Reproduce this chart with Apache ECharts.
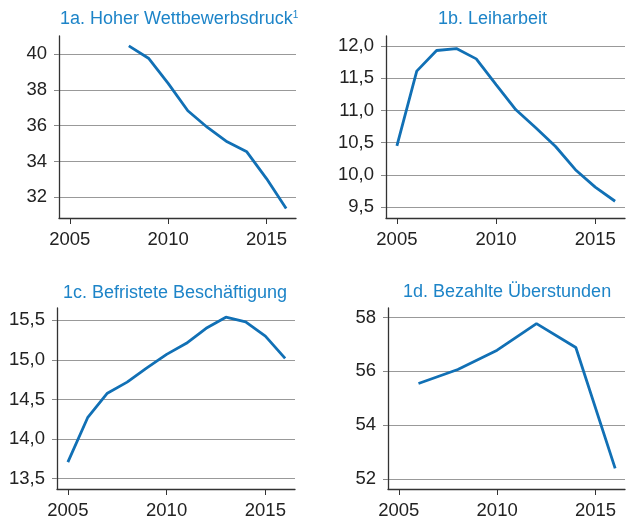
<!DOCTYPE html>
<html><head><meta charset="utf-8">
<script src="https://cdn.jsdelivr.net/npm/echarts@6/dist/echarts.min.js"></script>
<style>html,body{margin:0;padding:0;background:#fff}#c{width:626px;height:520px}</style>
</head><body><div id="c"></div>
<script>
const yearTicks = [2005, 2010, 2015];

const yearsA = [2008, 2009, 2010, 2011, 2012, 2013, 2014, 2015, 2016];
const valuesA = [40.45, 39.76, 38.36, 36.83, 35.9, 35.1, 34.54, 33.05, 31.38];
const ticksA = [32, 34, 36, 38, 40];

const yearsB = [2005, 2006, 2007, 2008, 2009, 2010, 2011, 2012, 2013, 2014, 2015, 2016];
const valuesB = [10.45, 11.61, 11.93, 11.96, 11.80, 11.40, 11.01, 10.73, 10.44, 10.08, 9.81, 9.59];
const ticksB = [9.5, 10.0, 10.5, 11.0, 11.5, 12.0];

const yearsC = [2005, 2006, 2007, 2008, 2009, 2010, 2011, 2012, 2013, 2014, 2015, 2016];
const valuesC = [13.71, 14.27, 14.58, 14.72, 14.90, 15.07, 15.21, 15.40, 15.54, 15.48, 15.30, 15.02];
const ticksC = [13.5, 14.0, 14.5, 15.0, 15.5];

const yearsD = [2006, 2008, 2010, 2012, 2014, 2016];
const valuesD = [55.55, 56.07, 56.79, 57.78, 56.89, 52.39];
const ticksD = [52, 54, 56, 58];

const titleColor = '#1d84c8';
const lineColor = '#1170b5';
const font = 'Liberation Sans, Arial, sans-serif';

const grids = [
  {left: 59, right: 330, top: 36, bottom: 302},
  {left: 386, right: 1, top: 36, bottom: 302},
  {left: 57, right: 331, top: 308, bottom: 31},
  {left: 388, right: 1, top: 308, bottom: 31}
];
const yRanges = [[30.85, 41.0], [9.33, 12.155], [13.37, 15.656], [51.62, 58.36]];
const yTicks = [ticksA, ticksB, ticksC, ticksD];
const decimals = [0, 1, 1, 0];
const series = [[yearsA, valuesA], [yearsB, valuesB], [yearsC, valuesC], [yearsD, valuesD]];

const fmt = (v, d) => d ? v.toFixed(d).replace('.', ',') : String(Math.round(v));

const option = {
  animation: false,
  title: [
    {text: '1a. Hoher Wettbewerbsdruck{sup|1}', left: 55, top: 5},
    {text: '1b. Leiharbeit', left: 433, top: 5},
    {text: '1c. Befristete Beschäftigung', left: 58, top: 279},
    {text: '1d. Bezahlte Überstunden', left: 398, top: 278}
  ].map(t => Object.assign(t, {textStyle: {color: titleColor, fontSize: 18, fontWeight: 'normal', fontFamily: font,
      rich: {sup: {fontSize: 10, color: titleColor, fontFamily: font, verticalAlign: 'top', padding: [0, 0, 8, 0]}}}})),
  grid: grids,
  xAxis: grids.map((g, i) => ({
    type: 'value', gridIndex: i, min: 2004.45, max: 2016.5,
    axisLine: {show: true, lineStyle: {color: '#333', width: 1.3}},
    axisTick: {show: true, length: 6, customValues: yearTicks, lineStyle: {color: '#333'}},
    axisLabel: {customValues: yearTicks, color: '#222', fontSize: 18.5, fontFamily: font, margin: 12, formatter: v => String(v)},
    splitLine: {show: false}
  })),
  yAxis: grids.map((g, i) => ({
    type: 'value', gridIndex: i, min: yRanges[i][0], max: yRanges[i][1],
    axisLine: {show: true, lineStyle: {color: '#333', width: 1.3}},
    axisTick: {show: true, length: 5, customValues: yTicks[i], lineStyle: {color: '#888'}},
    axisLabel: {customValues: yTicks[i], color: '#222', fontSize: 18.5, fontFamily: font, margin: 12, formatter: v => fmt(v, decimals[i])},
    splitLine: {show: true, lineStyle: {color: '#999', width: 1}}
  })),
  series: series.map((s, i) => ({
    type: 'line', xAxisIndex: i, yAxisIndex: i, showSymbol: false, symbol: 'none',
    lineStyle: {color: lineColor, width: 2.8},
    data: s[0].map((x, j) => [x, s[1][j]])
  }))
};
const chart = echarts.init(document.getElementById('c'), null, {renderer: 'canvas'});
chart.setOption(option);
</script></body></html>
